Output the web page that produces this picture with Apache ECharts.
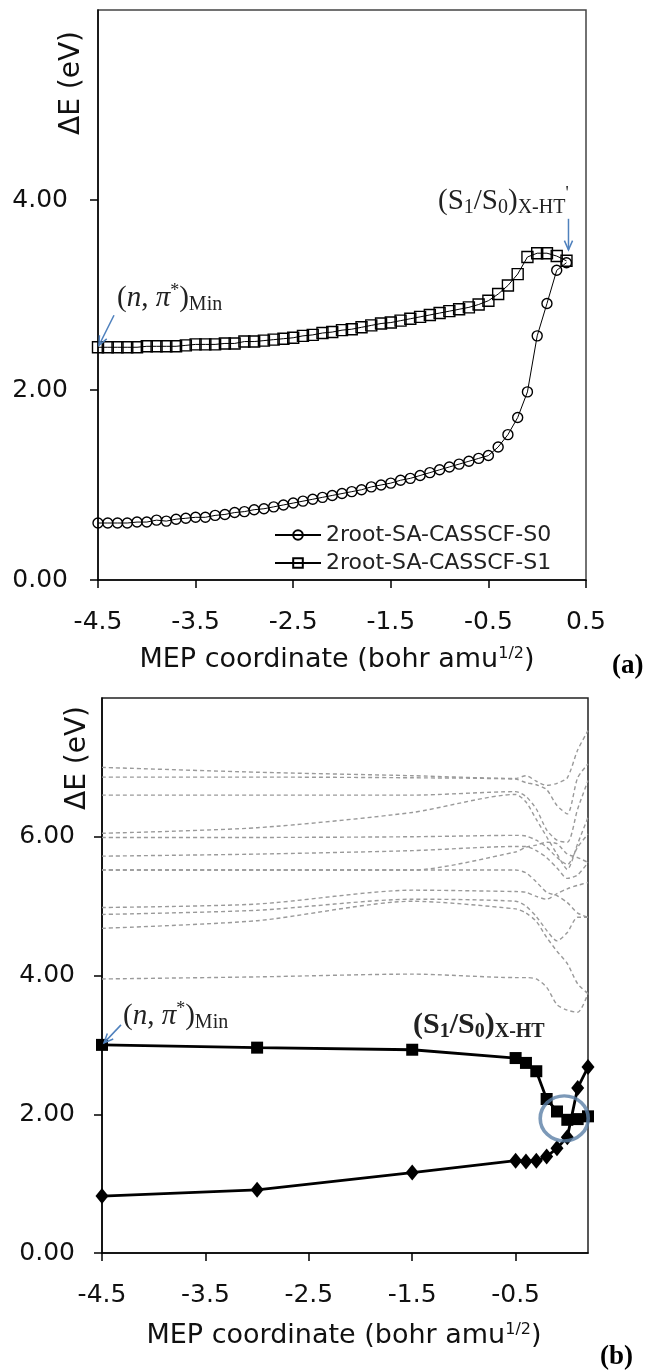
<!DOCTYPE html>
<html>
<head>
<meta charset="utf-8">
<script src="https://cdn.jsdelivr.net/npm/echarts@6/dist/echarts.min.js"></script>
<style>
  html, body { margin: 0; padding: 0; background: #fff; }
  #chart { width: 650px; height: 1370px; }
</style>
</head>
<body>
<div id="chart"></div>
<script>
// ---- panel (a): 2root-SA-CASSCF along the MEP ----
const xA = [-4.5, -4.4, -4.3, -4.2, -4.1, -4.0, -3.9, -3.8, -3.7, -3.6,
  -3.5, -3.4, -3.3, -3.2, -3.1, -3.0, -2.9, -2.8, -2.7, -2.6,
  -2.5, -2.4, -2.3, -2.2, -2.1, -2.0, -1.9, -1.8, -1.7, -1.6,
  -1.5, -1.4, -1.3, -1.2, -1.1, -1.0, -0.9, -0.8, -0.7, -0.6,
  -0.5, -0.4, -0.3, -0.2, -0.1, 0.0, 0.1, 0.2, 0.3];
const s0A = [0.60, 0.60, 0.60, 0.60, 0.61, 0.61, 0.63, 0.62, 0.64, 0.65,
  0.66, 0.66, 0.68, 0.69, 0.71, 0.72, 0.74, 0.75, 0.77, 0.79,
  0.81, 0.83, 0.85, 0.87, 0.89, 0.91, 0.93, 0.95, 0.98, 1.00,
  1.02, 1.05, 1.07, 1.10, 1.13, 1.16, 1.19, 1.22, 1.25, 1.28,
  1.31, 1.40, 1.53, 1.71, 1.98, 2.57, 2.91, 3.26, 3.34];
const s1A = [2.45, 2.45, 2.45, 2.45, 2.45, 2.46, 2.46, 2.46, 2.46, 2.47,
  2.48, 2.48, 2.48, 2.49, 2.49, 2.51, 2.51, 2.52, 2.53, 2.54,
  2.55, 2.57, 2.58, 2.60, 2.61, 2.63, 2.64, 2.66, 2.68, 2.70,
  2.71, 2.73, 2.75, 2.77, 2.79, 2.81, 2.83, 2.85, 2.87, 2.90,
  2.94, 3.01, 3.10, 3.22, 3.40, 3.44, 3.44, 3.41, 3.36];
const xTicksA = [-4.5, -3.5, -2.5, -1.5, -0.5, 0.5];
const yTicksA = [0, 2, 4];

// ---- panel (b): S0 / S1 plus higher roots (dashed) ----
const xB = [-4.5, -3.0, -1.5, -0.5, -0.4, -0.3, -0.2, -0.1, 0.0, 0.1, 0.2];
const s1B = [3.00, 2.96, 2.93, 2.81, 2.74, 2.62, 2.22, 2.04, 1.92, 1.93, 1.97];
const s0B = [0.82, 0.91, 1.16, 1.33, 1.32, 1.33, 1.39, 1.51, 1.67, 2.38, 2.68];
const ex1 = [7.00, 6.93, 6.88, 6.84, 6.88, 6.80, 6.74, 6.77, 6.85, 7.25, 7.53];
const ex2 = [6.86, 6.86, 6.85, 6.83, 6.78, 6.75, 6.68, 6.45, 6.33, 6.85, 7.05];
const ex3 = [6.60, 6.60, 6.60, 6.65, 6.58, 6.40, 6.10, 5.95, 5.92, 6.40, 6.81];
const ex4 = [6.05, 6.13, 6.35, 6.61, 6.50, 6.25, 6.00, 5.75, 5.53, 5.90, 6.28];
const ex5 = [5.99, 5.99, 6.00, 6.02, 6.01, 5.95, 5.85, 5.70, 5.60, 5.85, 6.04];
const ex6 = [5.72, 5.75, 5.80, 5.86, 5.86, 5.80, 5.70, 5.55, 5.40, 5.45, 5.63];
const ex7 = [5.52, 5.52, 5.52, 5.78, 5.85, 5.88, 5.92, 5.90, 5.75, 5.70, 5.63];
const ex8 = [5.52, 5.52, 5.52, 5.52, 5.48, 5.35, 5.20, 5.15, 5.05, 4.90, 4.84];
const ex9 = [4.98, 5.03, 5.23, 5.21, 5.20, 5.14, 5.10, 5.18, 5.25, 5.30, 5.34];
const ex10 = [4.88, 4.94, 5.10, 5.07, 5.00, 4.85, 4.65, 4.50, 4.62, 4.84, 4.84];
const ex11 = [4.68, 4.79, 5.07, 4.96, 4.90, 4.78, 4.55, 4.35, 4.17, 3.88, 3.74];
const ex12 = [3.95, 3.98, 4.02, 3.97, 3.97, 3.95, 3.83, 3.58, 3.50, 3.47, 3.74];
const excited = [ex1, ex2, ex3, ex4, ex5, ex6, ex7, ex8, ex9, ex10, ex11, ex12];
const crossing = [[-0.03, 1.94]];
const xTicksB = [-4.5, -3.5, -2.5, -1.5, -0.5];
const yTicksB = [0, 2, 4, 6];

const SANS = 'DejaVu Sans';
const SERIF = 'Liberation Serif';
const INK = '#111';
const ARROW = '#4f81bd';

const pairs = (xs, ys) => xs.map((x, i) => [x, ys[i]]);

function xAxisOf(grid, min, max, ticks) {
  return {
    gridIndex: grid, type: 'value', min, max,
    axisLine: { onZero: false, lineStyle: { color: '#000', width: 1.5 } },
    axisTick: { length: 8, customValues: ticks, lineStyle: { color: '#000', width: 1.5 } },
    axisLabel: {
      customValues: ticks, margin: 30, color: INK, fontFamily: SANS, fontSize: 25,
      formatter: v => v.toFixed(1)
    },
    splitLine: { show: false }
  };
}

function yAxisOf(grid, max, ticks, margin) {
  return {
    gridIndex: grid, type: 'value', min: 0, max,
    axisLine: { onZero: false, lineStyle: { color: '#000', width: 1.5 } },
    axisTick: { length: 8, customValues: ticks, lineStyle: { color: '#000', width: 1.5 } },
    axisLabel: {
      customValues: ticks, margin, color: INK, fontFamily: SANS, fontSize: 25,
      formatter: v => v.toFixed(2)
    },
    splitLine: { show: false }
  };
}

const series = [
  {
    name: '2root-SA-CASSCF-S0', type: 'line', xAxisIndex: 0, yAxisIndex: 0,
    data: pairs(xA, s0A), symbol: 'circle', symbolSize: 10,
    lineStyle: { color: '#000', width: 1 },
    itemStyle: { color: 'rgba(255,255,255,0)', borderColor: '#000', borderWidth: 1.4 }
  },
  {
    name: '2root-SA-CASSCF-S1', type: 'line', xAxisIndex: 0, yAxisIndex: 0,
    data: pairs(xA, s1A), symbol: 'rect', symbolSize: 11,
    lineStyle: { color: '#000', width: 1 },
    itemStyle: { color: 'rgba(255,255,255,0)', borderColor: '#000', borderWidth: 1.4 }
  }
];

excited.forEach((ys, i) => {
  series.push({
    name: 'root' + (i + 3), type: 'line', xAxisIndex: 1, yAxisIndex: 1,
    data: pairs(xB, ys), symbol: 'none', smooth: 0.25, silent: true,
    lineStyle: { color: '#9a9a9a', width: 1.4, type: [4, 3] }
  });
});

series.push(
  {
    name: 'S1', type: 'line', xAxisIndex: 1, yAxisIndex: 1,
    data: pairs(xB, s1B), symbol: 'rect', symbolSize: 12,
    lineStyle: { color: '#000', width: 2.8 }, itemStyle: { color: '#000' }
  },
  {
    name: 'S0', type: 'line', xAxisIndex: 1, yAxisIndex: 1,
    data: pairs(xB, s0B), symbol: 'diamond', symbolSize: [13, 16],
    lineStyle: { color: '#000', width: 2.8 }, itemStyle: { color: '#000' }
  },
  {
    name: 'CI', type: 'scatter', xAxisIndex: 1, yAxisIndex: 1,
    data: crossing, symbol: 'circle', symbolSize: [48, 45], z: 5,
    itemStyle: { color: 'rgba(0,0,0,0)', borderColor: '#5b7fa6', borderWidth: 3.5 }
  }
);

const option = {
  animation: false,
  backgroundColor: '#fff',
  grid: [
    { left: 98, top: 10, width: 488, height: 570, show: true, borderColor: '#444', borderWidth: 1.5 },
    { left: 102, top: 698, width: 486, height: 555, show: true, borderColor: '#222', borderWidth: 1.5 }
  ],
  xAxis: [xAxisOf(0, -4.5, 0.5, xTicksA), xAxisOf(1, -4.5, 0.2, xTicksB)],
  yAxis: [yAxisOf(0, 6, yTicksA, 30), yAxisOf(1, 8, yTicksB, 27)],
  legend: {
    left: 274, top: 524, orient: 'vertical', padding: 0,
    itemWidth: 46, itemHeight: 12, itemGap: 6,
    data: ['2root-SA-CASSCF-S0', '2root-SA-CASSCF-S1'],
    textStyle: { fontFamily: SANS, fontSize: 22, color: '#222' }
  },
  series
};

const chart = echarts.init(document.getElementById('chart'));
chart.setOption(option);

// ---- annotations ----
function label(x, y, text, rich, extra) {
  return Object.assign({
    type: 'text', x, y, z: 10,
    style: { text, rich, align: 'left', verticalAlign: 'middle', fill: '#222' }
  }, extra || {});
}

function arrow(from, to) {
  const ang = Math.atan2(to[1] - from[1], to[0] - from[0]);
  const h = 10, spread = 0.42;
  const a1 = [to[0] - h * Math.cos(ang - spread), to[1] - h * Math.sin(ang - spread)];
  const a2 = [to[0] - h * Math.cos(ang + spread), to[1] - h * Math.sin(ang + spread)];
  return [
    { type: 'line', z: 10, shape: { x1: from[0], y1: from[1], x2: to[0], y2: to[1] },
      style: { stroke: ARROW, lineWidth: 1.5 } },
    { type: 'polyline', z: 10, shape: { points: [a1, to, a2] },
      style: { stroke: ARROW, lineWidth: 1.5, fill: null } }
  ];
}

const serifRich = (size, weight) => ({
  p: { fontFamily: SERIF, fontSize: size, fontWeight: weight, fill: '#222' },
  i: { fontFamily: SERIF, fontSize: size, fontStyle: 'italic', fontWeight: weight, fill: '#222' },
  sup: { fontFamily: SERIF, fontSize: Math.round(size * 0.62), fontWeight: weight, fill: '#222', padding: [0, 0, 13, 0] },
  sub: { fontFamily: SERIF, fontSize: Math.round(size * 0.68), fontWeight: weight, fill: '#222', padding: [13, 0, 0, 0] }
});

const nameRich = {
  m: { fontFamily: SANS, fontSize: 27, fill: INK },
  s: { fontFamily: SANS, fontSize: 16, fill: INK, padding: [0, 0, 13, 0] }
};
const xName = '{m|MEP coordinate (bohr amu}{s|1/2}{m|)}';
const yName = '{m|\u0394E (eV)}';
const yRich = { m: { fontFamily: SANS, fontSize: 28, fill: INK } };
const nPi = '{p|(}{i|n}{p|, }{i|\u03c0}{sup|*}{p|)}{sub|Min}';
const xht = '{p|(S}{sub|1}{p|/S}{sub|0}{p|)}{sub|X-HT}';

const pA = p => chart.convertToPixel({ gridIndex: 0 }, p);
const pB = p => chart.convertToPixel({ gridIndex: 1 }, p);

const tipA1 = pA([xA[0], s1A[0]]);
const tipA2 = pA([xA[xA.length - 1], s1A[s1A.length - 1]]);
const tipB1 = pB([xB[0], s1B[0]]);

const graphics = [
  label(337, 660, xName, nameRich, { style: { text: xName, rich: nameRich, align: 'center', verticalAlign: 'middle' } }),
  label(344, 1336, xName, nameRich, { style: { text: xName, rich: nameRich, align: 'center', verticalAlign: 'middle' } }),
  label(72, 83, yName, yRich, { rotation: Math.PI / 2, style: { text: yName, rich: yRich, align: 'center', verticalAlign: 'middle' } }),
  label(78, 758, yName, yRich, { rotation: Math.PI / 2, style: { text: yName, rich: yRich, align: 'center', verticalAlign: 'middle' } }),
  label(612, 666, '(a)', null, { style: { text: '(a)', fontFamily: SERIF, fontSize: 27, fontWeight: 'bold', fill: '#000', align: 'left', verticalAlign: 'middle' } }),
  label(600, 1357, '(b)', null, { style: { text: '(b)', fontFamily: SERIF, fontSize: 27, fontWeight: 'bold', fill: '#000', align: 'left', verticalAlign: 'middle' } }),
  label(117, 298, nPi, serifRich(29, 'normal')),
  label(438, 201, xht + "{sup|'}", serifRich(29, 'normal')),
  label(123, 1016, nPi, serifRich(29, 'normal')),
  label(413, 1025, xht, serifRich(30, 'bold'))
].concat(
  arrow([tipA1[0] + 16, tipA1[1] - 32], [tipA1[0] + 1, tipA1[1] - 2]),
  arrow([tipA2[0] + 2, tipA2[1] - 42], [tipA2[0] + 2, tipA2[1] - 11]),
  arrow([tipB1[0] + 19, tipB1[1] - 20], [tipB1[0] + 2, tipB1[1] - 2])
);

chart.setOption({ graphic: { elements: graphics } });
</script>
</body>
</html>
